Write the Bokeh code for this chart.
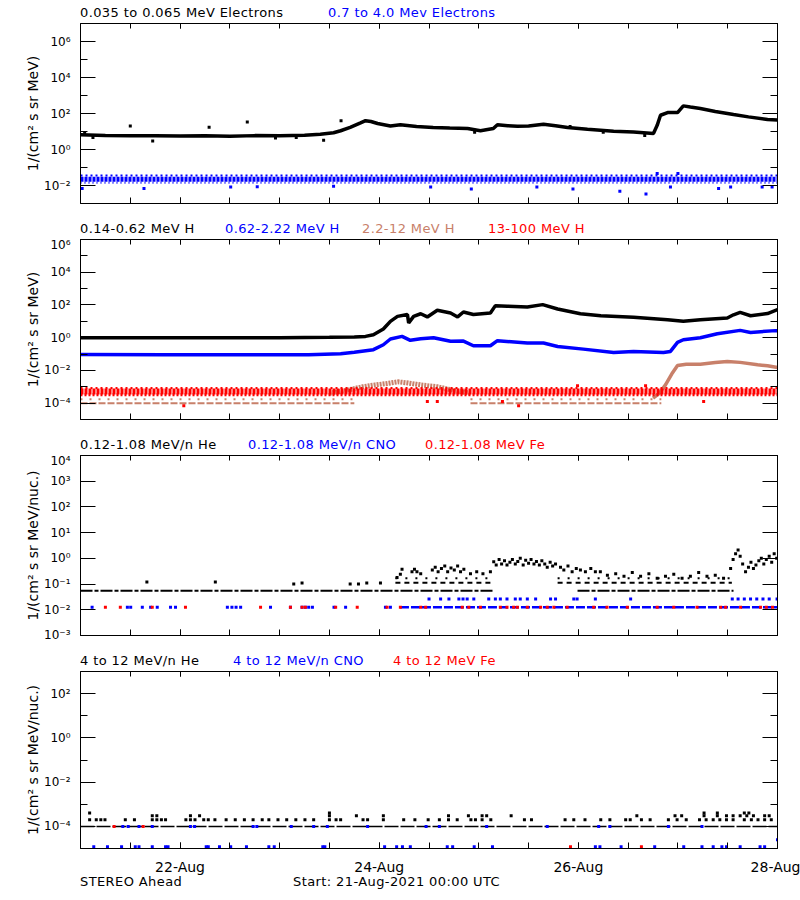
import json
import html
from bokeh.plotting import figure
from bokeh.models import Range1d, LogAxis, LinearAxis, FixedTicker, CustomJSTickFormatter, Div
from bokeh.layouts import column
from bokeh.embed import file_html
from bokeh.resources import INLINE

# ======================= DATA (hours since 21-Aug-2021 00:00 UTC) =======================
time_span = [0, 168]
day_ticks = [24, 72, 120, 168]
day_labels = ["22-Aug", "24-Aug", "26-Aug", "28-Aug"]
half_day_ticks = [12, 24, 36, 48, 60, 72, 84, 96, 108, 120, 132, 144, 156]

footer_texts = ["STEREO Ahead", "Start: 21-Aug-2021 00:00 UTC"]

# ---- panel 1 : electrons ----
p1_titles = ["0.035 to 0.065 MeV Electrons", "0.7 to 4.0 Mev Electrons"]
e_lo_t = [0, 6, 12, 18, 24, 30, 36, 42, 48, 54, 57.8, 61, 62.7, 65, 67.5, 68.7, 70, 71.6, 74.7, 77.1,
          81, 85, 89, 93.3, 96.4, 99.5, 100.5, 103, 105.3, 108, 111.6, 114.5, 117.4, 122.2, 128.5,
          133.3, 138.1, 139, 139.8, 141.5, 143.9, 145.3, 147, 149.4, 153, 157.4, 161, 165.6, 168]
e_lo_v = [6.5, 6.0, 5.8, 5.8, 5.6, 5.8, 5.5, 5.9, 5.8, 6.2, 7.0, 8.5, 11, 17, 30, 40, 36, 28, 20, 24,
          19, 16.6, 15.5, 14.7, 11, 14.5, 24, 21, 19.7, 20, 25.5, 21, 16.7, 13.5, 10.4,
          9.5, 7.8, 22, 80, 113, 112, 265, 230, 190, 130, 88, 65, 46, 43]
e_lo_out_t = [1, 3, 12, 17.4, 31, 40.2, 47, 52, 58.6, 62.8, 95, 118, 126, 136]
e_lo_out_v = [8.5, 4.6, 20, 3.0, 17, 34, 4.4, 4.6, 3.3, 39, 9.0, 19, 9.0, 6.0]
e_hi_levels = [0.036, 0.022, 0.014]
e_hi_out_t = [0.4, 15.3, 36.2, 42.6, 61, 84.4, 94.2, 110, 118.7, 130, 136.3, 139, 142.2, 144, 153.8, 156.7, 164.3, 166.7]
e_hi_out_v = [0.0068, 0.0068, 0.0083, 0.0085, 0.009, 0.0083, 0.0063, 0.0083, 0.0063, 0.0048, 0.0034, 0.047,
              0.0083, 0.047, 0.0068, 0.0083, 0.0083, 0.0083]

# ---- panel 2 : protons ----
p2_titles = ["0.14-0.62 MeV H", "0.62-2.22 MeV H", "2.2-12 MeV H", "13-100 MeV H"]
h1_t = [0, 12, 24, 36, 48, 60, 66, 68.7, 70.6, 73.0, 74.7, 76.4, 78.8, 79.1, 80.3, 82.0, 83.6, 86.0, 89.2,
        90.9, 92.3, 94.7, 98.8, 100.0, 102.9, 107.7, 111.4, 115.0, 120.5, 125.4, 133.3, 141.5, 145.3,
        149.4, 155.9, 157.4, 159.0, 161.5, 165.6, 168]
h1_v = [1.0, 1.0, 1.0, 1.0, 1.0, 1.05, 1.1, 1.2, 1.5, 3.4, 10, 20, 26, 8, 20, 29, 18.5, 47, 32,
        18.5, 37, 26, 32, 91, 83, 76, 105, 57, 29, 22, 17.5, 12.6, 10,
        12.6, 16, 25, 35, 22, 30, 52]
h2_t = [0, 20, 40, 55, 62.7, 66, 70.6, 73.0, 74.7, 77.5, 79.5, 82, 85.1, 89.2, 92.3, 94.7, 98.8, 100.5,
        107.7, 111.6, 115, 121.2, 128.5, 133.3, 140.5, 142.2, 143.9, 145.3, 149.4, 153.5, 159, 161.5, 167.5, 168]
h2_v = [0.095, 0.09, 0.09, 0.09, 0.105, 0.13, 0.185, 0.37, 0.83, 1.2, 0.69, 0.87, 1.0, 0.6, 0.62, 0.32, 0.32, 0.66,
        0.47, 0.47, 0.29, 0.2, 0.126, 0.145, 0.126, 0.145, 0.52, 0.75, 1.0, 1.75, 2.8, 2.1, 2.7, 2.7]
h3_base_t0 = [0, 94]
h3_base_t1 = [66, 140]
h3_base_v = [1.0e-4, 1.0e-4]
h3_base2_v = [1.7e-4, 1.7e-4]
h3_bump_t = [60, 64, 68, 71, 74, 76.5, 79, 82, 86, 90, 94]
h3_bump_v = [4e-4, 6e-4, 1.0e-3, 1.3e-3, 1.6e-3, 2.0e-3, 1.7e-3, 1.3e-3, 1.0e-3, 6e-4, 4e-4]
h3_rise_t = [138, 139.5, 141, 142.5, 143.9, 146, 149.4, 153, 155.9, 159, 163.2, 165.6, 168]
h3_rise_v = [2e-4, 4e-4, 1.3e-3, 6e-3, 0.02, 0.024, 0.024, 0.03, 0.035, 0.031, 0.022, 0.019, 0.015]
h4_levels = [8.5e-4, 5.2e-4, 3.2e-4]
h4_out_t = [24.9, 83.6, 86.0, 101.7, 105.6, 119.8, 136.2, 150.2]
h4_out_v = [7e-5, 1.26e-4, 1.26e-4, 1.26e-4, 7e-5, 1.15e-3, 1.15e-3, 1.26e-4]

# ---- panel 3 : 0.12-1.08 MeV/n heavy ions ----
p3_titles = ["0.12-1.08 MeV/n He", "0.12-1.08 MeV/n CNO", "0.12-1.08 MeV Fe"]
he_base_t0 = [0, 119.8]
he_base_t1 = [99.5, 157.4]
he_base_v = [0.055, 0.055]
he_l2_t0 = [75.9, 115.0]
he_l2_t1 = [99.5, 157.0]
he_l2_v = [0.113, 0.113]
he_l3_v = [0.167, 0.167]
he_pts_t = [16, 32.5, 51.4, 53.4, 65, 67, 69, 72.3, 76.3,
            77.1, 77.5, 79.9, 80.5, 81.1, 82, 84.8, 85.5, 86.2, 87, 87.8, 88.5, 89.3, 90.1, 90.9, 91.6, 92.4,
            94, 95.5, 97, 98.8, 99.6, 100.2, 100.9, 101.5, 102.2, 102.8, 103.5, 104.1, 104.8, 105.4, 106,
            106.7, 107.3, 108, 108.6, 109.3, 109.9, 110.6, 111.2, 111.9, 112.5, 113.2, 113.8, 114.5, 115.7,
            116.5, 117.5, 118.5, 119.5, 120.5, 121.7, 123, 124.1, 125.3, 127, 129, 131, 133, 135, 137, 139,
            141, 143, 145, 147, 149, 151, 153, 155, 156.7, 157.3, 157.9, 158.5, 159, 159.6, 160.3, 161,
            161.6, 162.2, 162.8, 163.5, 164.1, 164.7, 165.3, 166, 166.6, 167.2, 167.8]
he_pts_v = [0.12, 0.12, 0.1, 0.11, 0.1, 0.1, 0.11, 0.11, 0.18,
            0.24, 0.38, 0.3, 0.38, 0.3, 0.25, 0.35, 0.45, 0.3, 0.4, 0.5, 0.3, 0.42, 0.35, 0.5, 0.3, 0.38,
            0.25, 0.3, 0.25, 0.3, 0.74, 0.55, 0.9, 0.6, 0.8, 0.55, 0.7, 0.9, 0.6, 0.75, 1.0,
            0.55, 0.85, 0.65, 0.9, 0.6, 0.75, 0.55, 0.8, 0.6, 0.45, 0.7, 0.5, 0.6, 0.45,
            0.35, 0.5, 0.3, 0.4, 0.35, 0.3, 0.4, 0.3, 0.3, 0.22, 0.25, 0.2, 0.28, 0.2, 0.25, 0.17,
            0.2, 0.24, 0.17, 0.2, 0.28, 0.2, 0.22, 0.17, 0.4, 0.9, 1.5, 2.1, 1.2, 0.6, 0.3, 0.45,
            0.7, 0.4, 0.55, 0.8, 1.0, 0.6, 0.9, 1.2, 0.7, 1.5, 1.0]
cno_early_t = [2.8, 11.3, 12.1, 14.9, 16.9, 18.5, 21.7, 22.9, 35.4, 36.5, 37.5, 38.6, 45.8, 50.6, 53.4,
               54.2, 55.0, 55.9, 61.1, 63.9, 73.5, 74.7]
cno_early_v = [0.0125] * 22
cno_dense_t = [77, 168]
cno_dense_v = [0.0125, 0.0125]
cno_l2_t = [84, 86.8, 88.8, 91.2, 92.2, 93.2, 94.8, 98.4, 100, 101.2, 102.8, 104.8, 106, 107.7, 109.7,
            113.3, 114.5, 118.9, 119.7, 124.1, 132.6, 157.1, 158.5, 160, 161.5, 163, 164.5, 166, 167.9]
cno_l2_v = [0.026] * 29
fe_t = [6.0, 9.6, 17.3, 25.3, 43.4, 50.6, 53.4, 54.2, 61.5, 66.7, 73.9, 77.1, 82, 83.2, 92, 93.6, 96.4,
        101.2, 102.8, 104.4, 105.3, 107.7, 110.9, 112.5, 114.1, 117.3, 123.7, 126.9, 131.8, 139, 143,
        148.6, 154.3, 155.5, 159.1, 163.9, 165.3, 166.8]
fe_v = [0.0125] * 38

# ---- panel 4 : 4-12 MeV/n heavy ions ----
p4_titles = ["4 to 12 MeV/n He", "4 to 12 MeV/n CNO", "4 to 12 MeV Fe"]
he4_base_v = [1.0e-4, 1.0e-4]
he4_2_t = [2.2, 3.8, 4.9, 5.9, 10.8, 13.0, 17.3, 18.4, 19.5, 20.5, 25.4, 26.5, 27.6, 29.7, 30.8, 32.4,
           35.1, 37.3, 39.5, 41.6, 43.8, 45.4, 47.6, 49.7, 51.9, 54.1, 56.2, 60.0, 61.6, 62.7, 68.1, 69.2,
           73.0, 77.9, 80.6, 83.8, 86.5, 88.7, 90.8, 94.1, 95.2, 96.8, 98.9, 107.0, 108.7, 116.8, 118.9,
           121.6, 125.4, 127.6, 131.4, 132.5, 135.2, 137.3, 141.7, 143.8, 146.0, 149.2, 150.8, 152.5,
           154.1, 155.7, 157.3, 160.0, 161.7, 163.3, 164.9, 166.5]
he4_2_v = [2e-4] * 68
he4_3_t = [17.3, 18.4, 26.5, 28.7, 60.0, 66.5, 73.0, 88.7, 93.5, 96.8, 97.9, 103.8, 134.1, 143.3, 144.9,
           150.3, 153.5, 155.7, 157.3, 159.0, 160.6, 162.2, 164.9, 166.0]
he4_3_v = [3e-4] * 24
he4_4_t = [2.2, 60.0, 150.3, 153.5, 160.0, 161.1]
he4_4_v = [4e-4] * 6
cno4_low_t = [3.2, 6.5, 9.9, 13.2, 14.1, 17.3, 20.5, 21.1, 30.3, 30.8, 33.5, 36.2, 40.0, 45.4, 46.7, 58.4,
              58.9, 73.3, 76.2, 77.6, 79.5, 88.4, 89.7, 94.9, 99.3, 124.1, 125.2, 130.3, 138.4, 145.4,
              149.8, 152.5, 154.6, 155.7, 159.0, 163.8, 164.9, 168.0]
cno4_low_v = [1.2e-5] * 37 + [2.5e-5]
cno4_mid_t = [10.2, 11.5, 14.1, 17.3, 26.5, 27.5, 41.6, 42.5, 50.8, 56.2, 59.5, 69.2, 83.3, 86.5, 97.9,
              112.5, 124.9, 127.6, 141.7, 149.8]
cno4_mid_v = [1.0e-4] * 20
fe4_t = [8.1, 15.1, 118.1, 135.2]
fe4_v = [1.0e-4, 1.0e-4, 1.2e-5, 1.2e-5]

# ======================= STYLE / LAYOUT =======================
BLACK = "#000000"
BLUE = "#0000FF"
BROWN = "#C8806A"
RED = "#FF0000"
FONT = "DejaVu Sans"
PAGE_W = 800

POW_JS = r"""
const s = {'0':'\u2070','1':'\u00b9','2':'\u00b2','3':'\u00b3','4':'\u2074','5':'\u2075',
           '6':'\u2076','7':'\u2077','8':'\u2078','9':'\u2079','-':'\u207b'};
const e = Math.round(Math.log10(tick));
return '10' + String(e).split('').map(c => s[c]).join('');
"""
BLANK_JS = "return '';"
DAY_JS = ("const m = %s; const k = String(Math.round(tick)); return (k in m) ? m[k] : '';"
          % json.dumps(dict(zip([str(t) for t in day_ticks], day_labels))))


def make_panel(yr, major, minor, height, bottom, ylabel, xlabels):
    p = figure(width=PAGE_W, height=height, x_range=Range1d(time_span[0], time_span[1]),
               y_range=Range1d(yr[0], yr[1]), y_axis_type="log",
               output_backend="svg", toolbar_location=None,
               min_border_left=80, min_border_right=23, min_border_top=2, min_border_bottom=bottom)
    p.xgrid.visible = False
    p.ygrid.visible = False
    p.outline_line_color = BLACK
    p.outline_line_alpha = 1.0
    p.outline_line_width = 1
    p.background_fill_color = "white"
    p.border_fill_color = "white"

    ya = p.yaxis[0]
    ya.ticker = FixedTicker(ticks=major, minor_ticks=minor)
    ya.formatter = CustomJSTickFormatter(code=POW_JS)
    ya.major_tick_in = 15
    ya.major_tick_out = 0
    ya.minor_tick_in = 7
    ya.minor_tick_out = 0
    ya.major_label_standoff = 10
    ya.major_label_text_font = FONT
    ya.major_label_text_font_size = "12px"
    ya.major_label_text_color = BLACK
    ya.axis_line_color = BLACK
    ya.axis_label = ylabel
    ya.axis_label_text_font = FONT
    ya.axis_label_text_font_size = "14px"
    ya.axis_label_text_font_style = "normal"
    ya.axis_label_text_color = BLACK
    ya.axis_label_standoff = 0

    ra = LogAxis(ticker=FixedTicker(ticks=major, minor_ticks=minor),
                 formatter=CustomJSTickFormatter(code=BLANK_JS),
                 major_tick_in=15, major_tick_out=0, minor_tick_in=7, minor_tick_out=0,
                 major_label_standoff=0, major_label_text_font_size="0px", axis_line_color=BLACK)
    p.add_layout(ra, "right")

    xa = p.xaxis[0]
    xa.ticker = FixedTicker(ticks=day_ticks, minor_ticks=half_day_ticks)
    xa.major_tick_in = 6
    xa.major_tick_out = 0
    xa.minor_tick_in = 6
    xa.minor_tick_out = 0
    xa.axis_line_color = BLACK
    if xlabels:
        xa.formatter = CustomJSTickFormatter(code=DAY_JS)
        xa.major_label_standoff = 10
        xa.major_label_text_font = FONT
        xa.major_label_text_font_size = "14px"
        xa.major_label_text_color = BLACK
    else:
        xa.formatter = CustomJSTickFormatter(code=BLANK_JS)
        xa.major_label_standoff = 0
        xa.major_label_text_font_size = "0px"

    ta = LinearAxis(ticker=FixedTicker(ticks=day_ticks, minor_ticks=half_day_ticks),
                    formatter=CustomJSTickFormatter(code=BLANK_JS),
                    major_tick_in=5, major_tick_out=0, minor_tick_in=5, minor_tick_out=0,
                    major_label_standoff=0, major_label_text_font_size="0px", axis_line_color=BLACK)
    p.add_layout(ta, "above")
    return p


def text_row(texts, colors, lefts, height, top):
    spans = "".join(
        '<span style="position:absolute;left:%dpx;top:%dpx;color:%s;font-family:\'DejaVu Sans\';'
        'font-size:13px;line-height:10px;letter-spacing:0.4px;white-space:nowrap;">%s</span>'
        % (l, top, c, html.escape(t)) for t, c, l in zip(texts, colors, lefts))
    return Div(text='<div style="position:relative;width:%dpx;height:%dpx;">%s</div>' % (PAGE_W, height, spans),
               width=PAGE_W, height=height, margin=0)


def sq(p, x, y, color, size=3):
    p.scatter(x, y, marker="square", size=size, fill_color=color, line_color=None)


# ---------------- panel 1 ----------------
y1 = (1e-3, 1e7)
p1 = make_panel(y1, [1e-2, 1, 1e2, 1e4, 1e6], [1e-1, 1e1, 1e3, 1e5], 203, 21,
                "1/(cm\u00b2 s sr MeV)", False)
p1.line(e_lo_t, e_lo_v, line_color=BLACK, line_width=3.5)
sq(p1, e_lo_out_t, e_lo_out_v, BLACK)
for lvl, dash, w in zip(e_hi_levels, ["2 3", "3 1", "1 3"], [2, 5, 2]):
    p1.line(time_span, [lvl, lvl], line_color=BLUE, line_width=w, line_dash=dash)
sq(p1, e_hi_out_t, e_hi_out_v, BLUE)
t1 = text_row(p1_titles, [BLACK, BLUE], [80, 328], 21, 8)

# ---------------- panel 2 ----------------
y2 = (1e-5, 10 ** 6.0005)
p2 = make_panel(y2, [1e-4, 1e-2, 1, 1e2, 1e4, 1e6], [1e-3, 1e-1, 1e1, 1e3, 1e5], 203, 21,
                "1/(cm\u00b2 s sr MeV)", False)
p2.line(h1_t, h1_v, line_color=BLACK, line_width=3.5)
p2.line(h2_t, h2_v, line_color=BLUE, line_width=3.5)
p2.segment(x0=h3_base_t0, y0=h3_base_v, x1=h3_base_t1, y1=h3_base_v, line_color=BROWN,
           line_width=2, line_dash="7 2")
p2.segment(x0=h3_base_t0, y0=h3_base2_v, x1=h3_base_t1, y1=h3_base2_v, line_color=BROWN,
           line_width=2, line_dash="2 7")
p2.line(h3_bump_t, h3_bump_v, line_color=BROWN, line_width=5, line_dash="2 1")
p2.line(h3_rise_t, h3_rise_v, line_color=BROWN, line_width=3.5)
for lvl, dash, w in zip(h4_levels, ["2 3", "3 1", "2 2"], [2, 6, 3]):
    p2.line(time_span, [lvl, lvl], line_color=RED, line_width=w, line_dash=dash)
sq(p2, h4_out_t, h4_out_v, RED)
t2 = text_row(p2_titles, [BLACK, BLUE, BROWN, RED], [80, 225, 362, 488], 13, 0)

# ---------------- panel 3 ----------------
y3 = (10 ** -3.0005, 10 ** 4.0005)
dec3 = [1e-3, 1e-2, 1e-1, 1, 1e1, 1e2, 1e3, 1e4]
p3 = make_panel(y3, dec3, [], 203, 21, "1/(cm\u00b2 s sr MeV/nuc.)", False)
p3.segment(x0=he_base_t0, y0=he_base_v, x1=he_base_t1, y1=he_base_v, line_color=BLACK,
           line_width=2, line_dash="12 2 4 2")
p3.segment(x0=he_l2_t0, y0=he_l2_v, x1=he_l2_t1, y1=he_l2_v, line_color=BLACK,
           line_width=2, line_dash="5 4")
p3.segment(x0=he_l2_t0, y0=he_l3_v, x1=he_l2_t1, y1=he_l3_v, line_color=BLACK,
           line_width=2, line_dash="2 8")
sq(p3, he_pts_t, he_pts_v, BLACK)
sq(p3, cno_early_t, cno_early_v, BLUE)
p3.line(cno_dense_t, cno_dense_v, line_color=BLUE, line_width=2.5, line_dash="9 2")
sq(p3, cno_l2_t, cno_l2_v, BLUE)
sq(p3, fe_t, fe_v, RED)
t3 = text_row(p3_titles, [BLACK, BLUE, RED], [80, 248, 425], 13, 0)

# ---------------- panel 4 ----------------
y4 = (1e-5, 1e3)
p4 = make_panel(y4, [1e-4, 1e-2, 1, 1e2], [1e-3, 1e-1, 1e1], 208, 26,
                "1/(cm\u00b2 s sr MeV/nuc.)", True)
p4.line(time_span, he4_base_v, line_color=BLACK, line_width=1.5, line_dash="14 2")
sq(p4, he4_2_t, he4_2_v, BLACK)
sq(p4, he4_3_t, he4_3_v, BLACK)
sq(p4, he4_4_t, he4_4_v, BLACK)
sq(p4, cno4_mid_t, cno4_mid_v, BLUE)
sq(p4, cno4_low_t, cno4_low_v, BLUE)
sq(p4, fe4_t, fe4_v, RED)
t4 = text_row(p4_titles, [BLACK, BLUE, RED], [80, 233, 393], 13, 0)
t5 = text_row(footer_texts, [BLACK, BLACK], [80, 293], 20, 0)

layout = column(t1, p1, t2, p2, t3, p3, t4, p4, t5, spacing=0)
open("out.html", "w", encoding="utf-8").write(file_html(layout, INLINE))
